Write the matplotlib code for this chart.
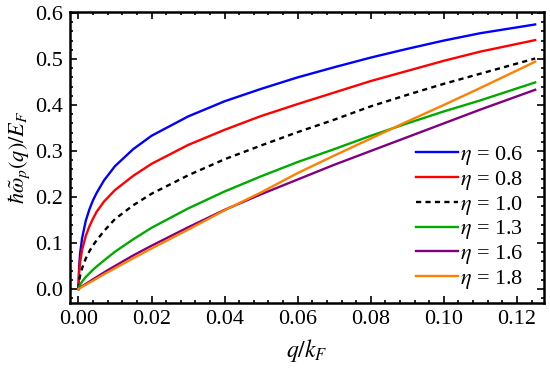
import numpy as np
import matplotlib
matplotlib.use("Agg")
import matplotlib.pyplot as plt
from matplotlib.ticker import MultipleLocator, FormatStrFormatter

# values
q = [0.0, 0.0002, 0.0005, 0.001, 0.002, 0.003, 0.004, 0.005, 0.007, 0.01,
     0.015, 0.02, 0.03, 0.04, 0.05, 0.06, 0.07, 0.08, 0.09, 0.10, 0.11, 0.125]

w_06 = [0.0, 0.05, 0.08, 0.11, 0.148, 0.173, 0.193, 0.209, 0.236, 0.267,
        0.304, 0.333, 0.375, 0.408, 0.435, 0.46, 0.482, 0.503, 0.522, 0.540, 0.556, 0.575]
w_08 = [0.0, 0.038, 0.06, 0.085, 0.115, 0.136, 0.153, 0.168, 0.19, 0.215,
        0.246, 0.272, 0.313, 0.346, 0.376, 0.402, 0.427, 0.452, 0.474, 0.496, 0.516, 0.541]
w_10 = [0.0, 0.018, 0.03, 0.045, 0.066, 0.082, 0.095, 0.106, 0.126, 0.152,
        0.182, 0.207, 0.247, 0.282, 0.312, 0.341, 0.368, 0.397, 0.422, 0.446, 0.468, 0.501]
w_13 = [0.0, 0.005, 0.01, 0.016, 0.026, 0.034, 0.042, 0.049, 0.062, 0.081,
        0.108, 0.133, 0.175, 0.212, 0.245, 0.276, 0.304, 0.333, 0.36, 0.386, 0.41, 0.449]
w_16 = [0.0, 0.001, 0.003, 0.006, 0.011, 0.016, 0.021, 0.026, 0.036, 0.05,
        0.073, 0.094, 0.134, 0.172, 0.206, 0.238, 0.27, 0.30, 0.33, 0.36, 0.39, 0.433]
w_18 = [0.0, 0.001, 0.002, 0.005, 0.009, 0.014, 0.018, 0.023, 0.032, 0.045,
        0.067, 0.088, 0.129, 0.171, 0.210, 0.252, 0.290, 0.327, 0.364, 0.40, 0.437, 0.494]

etas = ["0.6", "0.8", "1.0", "1.3", "1.6", "1.8"]
series = [w_06, w_08, w_10, w_13, w_16, w_18]
colors = ["#0000ff", "#ff0000", "black", "#00aa00", "#800080", "#ff8000"]
styles = ["-", "-", (0, (2.2, 1.8)), "-", "-", "-"]

plt.rcParams['font.family'] = ['Liberation Serif', 'DejaVu Serif']
plt.rcParams['mathtext.fontset'] = 'stix'

fig = plt.figure(figsize=(5.5, 3.73), dpi=100)
ax = fig.add_axes([0.1273, 0.1877, 0.8617, 0.7788])

for w, eta, c, ls in zip(series, etas, colors, styles):
    ax.plot(q, w, color=c, linestyle=ls, lw=1.7, label=r"$\eta$ = " + eta)

ax.set_xlim(-0.0023, 0.1274)
ax.set_ylim(-0.0304, 0.601)

ax.xaxis.set_major_locator(MultipleLocator(0.02))
ax.xaxis.set_minor_locator(MultipleLocator(0.004))
ax.yaxis.set_major_locator(MultipleLocator(0.1))
ax.yaxis.set_minor_locator(MultipleLocator(0.02))
ax.xaxis.set_major_formatter(FormatStrFormatter('%.2f'))
ax.yaxis.set_major_formatter(FormatStrFormatter('%.1f'))

ax.tick_params(which='both', direction='in', top=True, right=True,
               labelsize=16, width=1.2, pad=5)
ax.tick_params(which='major', length=5)
ax.tick_params(which='minor', length=2.5)
for s in ax.spines.values():
    s.set_linewidth(1.8)

ax.set_xlabel(r"$q/k_F$", fontsize=17, labelpad=6)
ax.set_ylabel(r"$\hbar\tilde{\omega}_p(q)/E_F$", fontsize=16, labelpad=2)

ax.legend(loc='lower right', frameon=False, fontsize=16, handlelength=1.9,
          handletextpad=0.1, labelspacing=0.08, borderaxespad=0.3,
          bbox_to_anchor=(0.99, -0.012))

fig.savefig("out.png", dpi=100)
